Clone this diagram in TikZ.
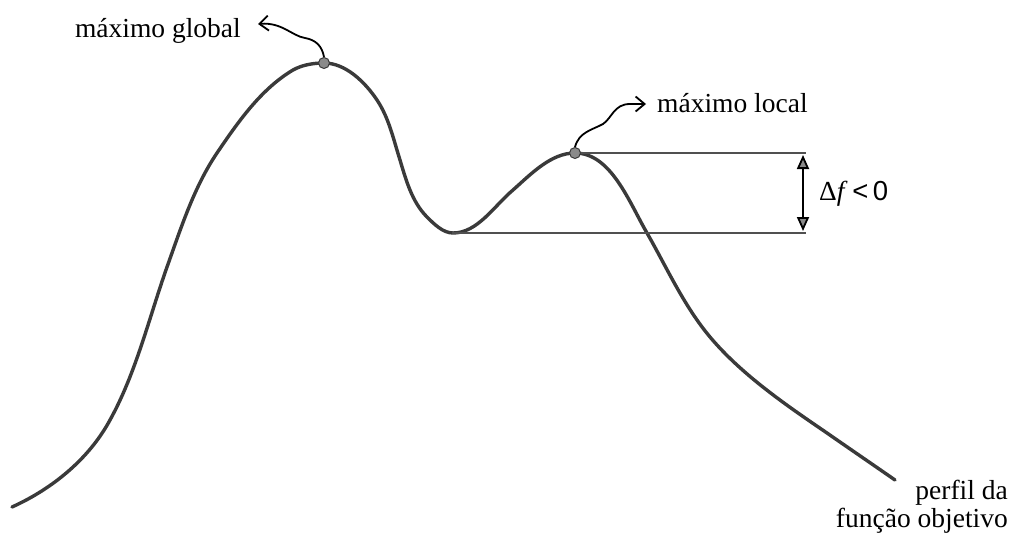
\documentclass[tikz,border=0pt]{standalone}
\usepackage{fontspec}
\setmainfont{Liberation Serif}
\setsansfont{Liberation Sans}
\usetikzlibrary{arrows.meta}
\definecolor{curvec}{HTML}{3A3A3A}
\definecolor{linec}{HTML}{505050}
\definecolor{dotc}{HTML}{8A8A8A}
\tikzset{
  curve/.style={draw=curvec, line width=3.4pt, line cap=round, line join=round},
  level/.style={draw=linec, line width=2.4pt},
  maxdot/.style={circle, fill=dotc, draw=curvec, line width=1pt, inner sep=0pt, minimum size=11pt},
  lbl/.style={font=\fontsize{27.5}{28}\selectfont, inner sep=0pt},
  pointer/.style={draw=black, line width=1.8pt, -{Straight Barb[length=9pt, width=15pt, line width=1.8pt]}},
  dimarrow/.style={draw=black, line width=1.8pt, {Triangle[length=14pt, width=12pt, fill=dotc]}-{Triangle[length=14pt, width=12pt, fill=dotc]}}
}
\begin{document}
\begin{tikzpicture}[x=1pt, y=-1pt]
\useasboundingbox (0,0) rectangle (1012,533);
% objective function profile
\draw[curve] (12,507)
  .. controls (52,489) and (89,459) .. (110,420)
  .. controls (136,373) and (149,318) .. (167,267)
  .. controls (181,228) and (194,187) .. (217,153)
  .. controls (238,122) and (261,89) .. (293,70)
  .. controls (302,65) and (313,63) .. (324,63)
  .. controls (345.5,63) and (365,82) .. (377,100)
  .. controls (389,118) and (393.5,139.6) .. (400,160)
  .. controls (406,180) and (412,202) .. (427,217)
  .. controls (434,224) and (443,233) .. (453,233)
  .. controls (477.6,233) and (494,206) .. (513,190)
  .. controls (531,174) and (551,153) .. (575,153)
  .. controls (611,153) and (629,202) .. (647,233)
  .. controls (667,268) and (684,306) .. (710,337)
  .. controls (742,375) and (786,405) .. (827,433)
  .. controls (850,449) and (872,464) .. (895,480);
% level lines
\coordinate (lmax) at (575,153);
\coordinate (lmin) at (452,233);
\coordinate (tr) at (806,153);
\coordinate (br) at (806,233);
\draw[level] (lmax) -- (tr);
\draw[level] (lmin) -- (br);
% dots
\node[maxdot] (gmax) at (324,63) {};
\node[maxdot] (loc) at (575,153) {};
% dimension arrow
\coordinate (at) at (803,155);
\coordinate (ab) at (803,231);
\draw[dimarrow] (at) -- (ab);
\node[lbl, anchor=west] (df) at (819,194) {Δ\textit{f}\,\textsf{<\,0}};
% labels
\node[lbl, anchor=east] (glab) at (241,31) {máximo global};
\node[lbl, anchor=west] (llab) at (657,103) {máximo local};
\node[lbl, anchor=east, align=right] (plab) at (1008,507) {perfil da\\função objetivo};
% pointers
\coordinate (gtip) at (258,24);
\coordinate (ltip) at (646,104);
\draw[pointer] (gmax.north) .. controls (322,46) and (316,40) .. (305,38) .. controls (292,36) and (282,22) .. (gtip);
\draw[pointer] (loc.north) .. controls (579,132) and (592,130) .. (603,124) .. controls (612,118) and (614,104) .. (630,104) -- (ltip);
\end{tikzpicture}
\end{document}
